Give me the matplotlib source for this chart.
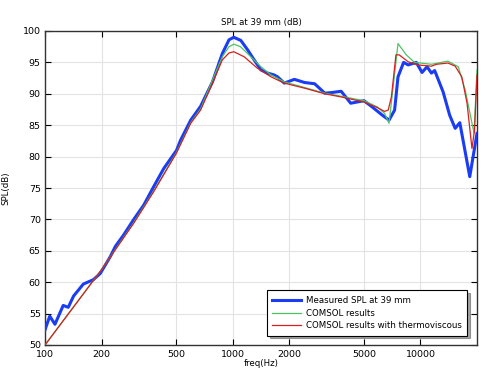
import matplotlib
matplotlib.use("Agg")
import matplotlib.pyplot as plt
from matplotlib.ticker import FixedLocator, FixedFormatter, NullLocator

# Measured SPL
meas_f = [100, 106, 113, 125, 133, 142, 160, 181, 197, 223, 237, 262, 297, 336, 379, 429, 502, 527,
          597, 674, 780, 880, 955, 1013, 1104, 1200, 1300, 1413, 1533, 1662, 1734, 1881, 2128, 2411,
          2731, 3092, 3363, 3780, 4250, 5000, 5480, 6200, 6800, 7280, 7590, 8130, 8600, 9500, 10190,
          10840, 11440, 11900, 13200, 14300, 15300, 16200, 18300, 20000]
meas_db = [52.4, 54.6, 53.3, 56.3, 56.0, 57.8, 59.7, 60.4, 61.4, 64.1, 65.7, 67.5, 70.0, 72.3, 75.2,
           78.1, 81.0, 82.6, 85.8, 88.0, 91.9, 96.4, 98.6, 99.0, 98.5, 97.0, 95.4, 93.8, 93.3, 93.0,
           92.7, 91.7, 92.3, 91.8, 91.6, 90.1, 90.2, 90.4, 88.5, 88.9, 88.0, 86.7, 85.8, 87.4, 92.7,
           95.0, 94.6, 95.0, 93.4, 94.3, 93.3, 93.7, 90.3, 86.6, 84.5, 85.4, 76.8, 83.7]

# COMSOL results
com_f = [100, 200, 297, 379, 500, 597, 674, 780, 880, 955, 1013, 1100, 1200, 1413, 1600, 1881, 2411,
         3092, 3780, 5000, 5900, 6430, 6800, 7590, 8400, 9300, 11440, 14000, 15900, 17300, 19300, 20000]
com_db = [50.0, 62.0, 69.5, 74.5, 80.6, 85.4, 87.6, 92.2, 95.9, 97.5, 97.9, 97.5, 96.4, 94.3, 93.0,
          91.9, 91.0, 90.1, 89.6, 88.9, 87.9, 86.9, 85.3, 98.0, 96.2, 95.0, 94.7, 95.2, 94.3, 90.6,
          83.7, 93.8]

# COMSOL results with thermoviscous
tv_f = [100, 200, 297, 379, 500, 597, 674, 780, 880, 955, 1013, 1150, 1350, 1600, 1881, 2411, 3092,
        3780, 5000, 5900, 6430, 6730, 7000, 7400, 7700, 8600, 9630, 11440, 12150, 14000, 15300,
        16600, 17700, 18800, 19400, 20000]
tv_db = [50.0, 62.0, 69.4, 74.4, 80.5, 85.3, 87.4, 91.7, 95.4, 96.5, 96.7, 95.9, 94.1, 92.7, 91.7,
         90.9, 90.0, 89.5, 88.7, 87.8, 87.2, 87.4, 89.5, 96.2, 96.2, 95.1, 94.6, 94.4, 94.7, 94.9,
         94.4, 92.7, 88.5, 81.3, 84.2, 93.0]

xticks = [100, 200, 500, 1000, 2000, 5000, 10000]
xticklabels = ["100", "200", "500", "1000", "2000", "5000", "10000"]
yticks = [50, 55, 60, 65, 70, 75, 80, 85, 90, 95, 100]

FS = 6.2

fig = plt.figure(figsize=(4.86, 3.75), dpi=100)
ax = fig.add_axes([45/486, 1-345/375, (477-45)/486, (345-31)/375])

ax.plot(meas_f, meas_db, color='#1a3cf5', lw=2.2, label='Measured SPL at 39 mm', zorder=3)
ax.plot(com_f, com_db, color='#4cc462', lw=0.9, label='COMSOL results', zorder=4)
ax.plot(tv_f, tv_db, color='#d42020', lw=0.9, label='COMSOL results with thermoviscous', zorder=5)

ax.set_xscale('log')
ax.set_xlim(100, 20000)
ax.set_ylim(50, 100)
ax.xaxis.set_major_locator(FixedLocator(xticks))
ax.xaxis.set_major_formatter(FixedFormatter(xticklabels))
ax.xaxis.set_minor_locator(NullLocator())
ax.set_yticks(yticks)
ax.tick_params(direction='in', top=True, right=True, labelsize=FS + 0.6, length=4, width=0.8)
ax.tick_params(axis='x', pad=3.5)
ax.tick_params(axis='y', pad=3)
ax.grid(True, color='#e3e3e3', lw=0.8)
ax.set_axisbelow(True)
for s in ax.spines.values():
    s.set_linewidth(1.0)
    s.set_color('#333333')

ax.set_title('SPL at 39 mm (dB)', fontsize=FS, pad=4)
ax.set_xlabel('freq(Hz)', fontsize=FS, labelpad=0)
ax.set_ylabel('SPL(dB)', fontsize=FS, labelpad=9)

leg = ax.legend(loc='lower right', fontsize=FS, frameon=True, fancybox=False, shadow=True,
                bbox_to_anchor=(0.978, 0.03), borderaxespad=0, handlelength=3.4,
                handletextpad=0.6, labelspacing=0.45, borderpad=0.6)
leg.get_frame().set_edgecolor('black')
leg.get_frame().set_linewidth(0.8)

fig.savefig('out.png', dpi=100)
